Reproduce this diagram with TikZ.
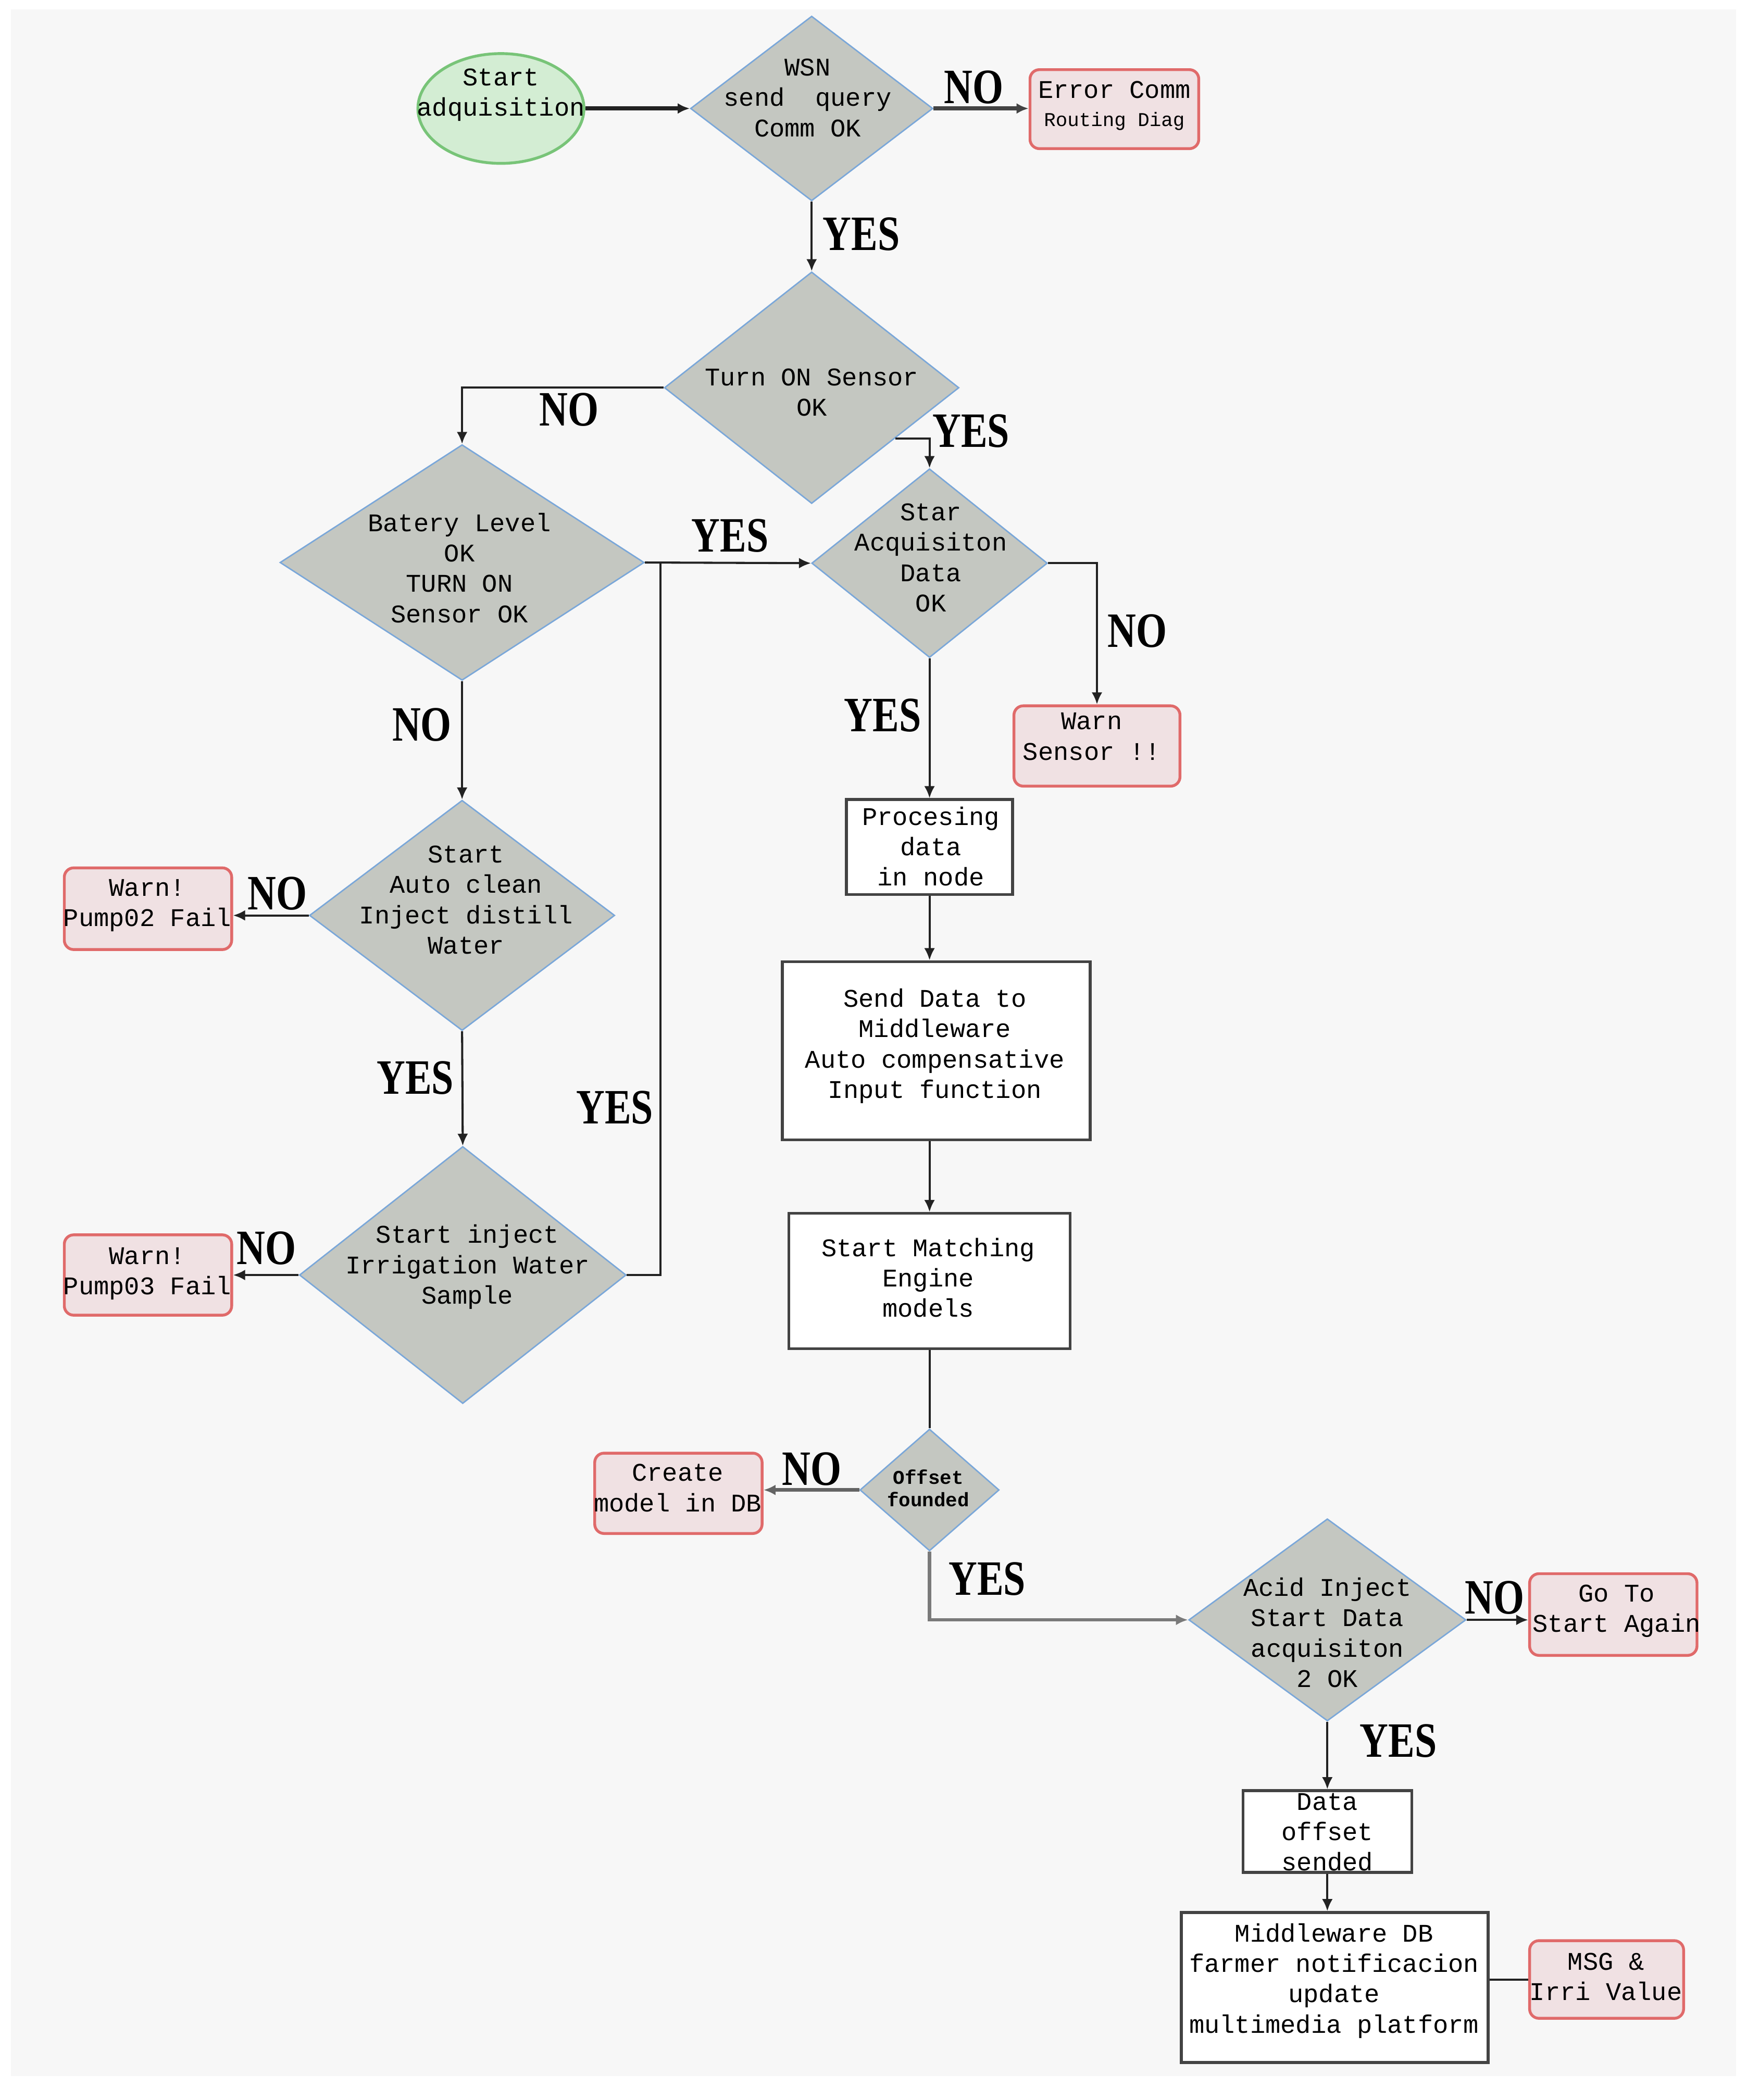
\documentclass[tikz,border=0pt]{standalone}
\usepackage{fontspec}
\setmonofont{Liberation Mono}
\newfontfamily\lblfont{Liberation Serif}[FakeStretch=0.8]
\usetikzlibrary{shapes.geometric,arrows.meta,calc}
\definecolor{bg}{HTML}{F7F7F7}
\definecolor{dfill}{HTML}{C4C7C1}
\definecolor{dline}{HTML}{7AA7D9}
\definecolor{rfill}{HTML}{F0E1E3}
\definecolor{rline}{HTML}{E06A6A}
\definecolor{gfill}{HTML}{D3EDD3}
\definecolor{gline}{HTML}{78C478}
\definecolor{ln}{HTML}{222222}
\begin{document}
\begin{tikzpicture}[x=0.02cm,y=-0.02cm,
 dia/.style={diamond, draw=dline, fill=dfill, line width=0.6pt, inner sep=0pt},
 warnbox/.style={rectangle, rounded corners=0.14cm, draw=rline, fill=rfill, line width=1.2pt, inner sep=0pt},
 procbox/.style={rectangle, draw=ln!85, fill=white, line width=1.2pt, inner sep=0pt},
 txt/.style={font=\ttfamily\fontsize{10.8}{12.9}\selectfont, align=center, inner sep=0pt, text=black},
 yn/.style={font=\lblfont\bfseries\fontsize{21}{21}\selectfont, inner sep=0pt},
 flow/.style={draw=ln, line width=0.9pt, -{Latex[length=1.8mm,width=1.6mm]}},
 link/.style={draw=ln, line width=0.9pt},
]
\useasboundingbox (0,0) rectangle (1304,1568);
\fill[white] (0,0) rectangle (1304,1568);
\fill[bg] (8,7) rectangle (1296,1550);

% shapes
\node[ellipse, draw=gline, fill=gfill, line width=1.2pt, minimum width=2.48cm, minimum height=1.64cm, inner sep=0pt] (start) at (374,81) {};
\node[dia, minimum width=3.62cm, minimum height=2.76cm] (wsn) at (606,81) {};
\node[warnbox, minimum width=2.52cm, minimum height=1.18cm] (err) at (832,81.5) {};
\node[dia, minimum width=4.40cm, minimum height=3.46cm] (turn) at (606,289.5) {};
\node[dia, minimum width=5.44cm, minimum height=3.52cm] (bat) at (345,420) {};
\node[dia, minimum width=3.52cm, minimum height=2.82cm] (star) at (694,420.5) {};
\node[warnbox, minimum width=2.48cm, minimum height=1.2cm] (wsen) at (819,557) {};
\node[procbox, minimum width=2.48cm, minimum height=1.42cm] (proc) at (694,632.5) {};
\node[procbox, minimum width=4.6cm, minimum height=2.66cm] (send) at (699,784.5) {};
\node[procbox, minimum width=4.2cm, minimum height=2.02cm] (match) at (694,956.5) {};
\node[dia, minimum width=4.56cm, minimum height=3.44cm] (auto) at (345,683.5) {};
\node[warnbox, minimum width=2.5cm, minimum height=1.22cm] (p02) at (110.5,678.5) {};
\node[dia, minimum width=4.88cm, minimum height=3.84cm] (irr) at (345.5,952) {};
\node[warnbox, minimum width=2.5cm, minimum height=1.2cm] (p03) at (110.5,952) {};
\node[dia, minimum width=2.08cm, minimum height=1.82cm] (off) at (694,1112.5) {};
\node[warnbox, minimum width=2.5cm, minimum height=1.2cm] (cre) at (506.5,1115) {};
\node[dia, minimum width=4.14cm, minimum height=3.02cm] (acid) at (991,1209.5) {};
\node[warnbox, minimum width=2.5cm, minimum height=1.22cm] (goto) at (1204.5,1205.5) {};
\node[procbox, minimum width=2.52cm, minimum height=1.22cm] (doff) at (991,1367.5) {};
\node[procbox, minimum width=4.58cm, minimum height=2.24cm] (mw) at (996.5,1484) {};
\node[warnbox, minimum width=2.3cm, minimum height=1.16cm] (msg) at (1199.5,1478) {};

% texts
\node[txt] (start-t) at (374,71) {Start\\adquisition};
\node[txt] (wsn-t) at (603,73) {WSN\\send~ query\\Comm OK};
\node[txt] (err-t) at (832,79) {Error Comm\\[-1pt]{\fontsize{8.3}{9}\selectfont Routing Diag}};
\node[txt] (turn-t) at (606,293) {Turn ON Sensor\\OK};
\node[txt] (bat-t) at (343,424) {Batery Level\\OK\\TURN ON\\Sensor OK};
\node[txt] (star-t) at (695,416.5) {Star\\Acquisiton\\Data\\OK};
\node[txt] (wsen-t) at (815,550) {Warn\\Sensor !!};
\node[txt] (proc-t) at (695,632) {Procesing\\data\\in node};
\node[txt] (send-t) at (698,781) {Send Data to\\Middleware\\Auto compensative\\Input function};
\node[txt] (match-t) at (693,954) {Start Matching\\Engine\\models};
\node[txt] (auto-t) at (348,672) {Start\\Auto clean\\Inject distill\\Water};
\node[txt] (p02-t) at (110,676) {Warn!\\Pump02 Fail};
\node[txt] (irr-t) at (349,946) {Start inject\\Irrigation Water\\Sample};
\node[txt] (p03-t) at (110,951) {Warn!\\Pump03 Fail};
\node[txt, font=\ttfamily\bfseries\fontsize{8.3}{9.5}\selectfont] (off-t) at (693,1111) {Offset\\founded};
\node[txt] (cre-t) at (506,1111) {Create\\model in DB};
\node[txt] (acid-t) at (991,1219) {Acid Inject\\Start Data\\acquisiton\\2 OK};
\node[txt] (goto-t) at (1207,1203) {Go To\\Start Again};
\node[txt] (doff-t) at (991,1368) {Data\\offset\\sended};
\node[txt] (mw-t) at (996,1479) {Middleware DB\\farmer notificacion\\update\\multimedia platform};
\node[txt] (msg-t) at (1199,1476) {MSG \&\\Irri Value};

% connectors
\draw[flow, line width=1.8pt] (start.east) -- (wsn.west);
\draw[flow, line width=1.8pt, draw=ln!85] (wsn.east) -- (wsn.east -| err.west);
\draw[flow] (wsn.south) -- (turn.north);
\draw[flow] (turn.west) -| (bat.north);
\draw[flow] ($(turn.east)!0.434!(turn.south)$) -| (star.north);
\draw[flow] (bat.east) -- (star.west);
\coordinate (j) at (493,420);
\draw[link] (irr.east) -| (j);
\draw[flow] (star.east) -| (wsen.north);
\draw[flow] (star.south) -- (proc.north);
\draw[flow] (proc.south) -- (proc.south |- send.north);
\draw[flow] (match.north |- send.south) -- (match.north);
\draw[link] (match.south) -- (off.north);
\draw[flow, line width=1.6pt, draw=ln!70] (off.west) -- (off.west -| cre.east);
\draw[flow, line width=1.4pt, draw=ln!60] (off.south) |- (acid.west);
\draw[flow] (acid.east) -- (acid.east -| goto.west);
\draw[flow] (acid.south) -- (doff.north);
\draw[flow] (doff.south) -- (doff.south |- mw.north);
\draw[link] (msg.west -| mw.east) -- (msg.west);
\draw[flow] (bat.south) -- (auto.north);
\draw[flow] (auto.west) -- (auto.west -| p02.east);
\draw[flow] (auto.south) -- (irr.north);
\draw[flow] (irr.west) -- (p03.east);

% labels
\node[yn] (l1) at (727,65) {NO};
\node[yn] (l2) at (643,175) {YES};
\node[yn] (l3) at (425,306) {NO};
\node[yn] (l4) at (725,322) {YES};
\node[yn] (l5) at (545,400) {YES};
\node[yn] (l6) at (849,471) {NO};
\node[yn] (l7) at (315,541) {NO};
\node[yn] (l8) at (659,534) {YES};
\node[yn] (l9) at (207,667) {NO};
\node[yn] (l10) at (310,805) {YES};
\node[yn] (l11) at (459,827) {YES};
\node[yn] (l12) at (199,932) {NO};
\node[yn] (l13) at (606,1097) {NO};
\node[yn] (l14) at (737,1179) {YES};
\node[yn] (l15) at (1116,1193) {NO};
\node[yn] (l16) at (1044,1300) {YES};
\end{tikzpicture}
\end{document}
